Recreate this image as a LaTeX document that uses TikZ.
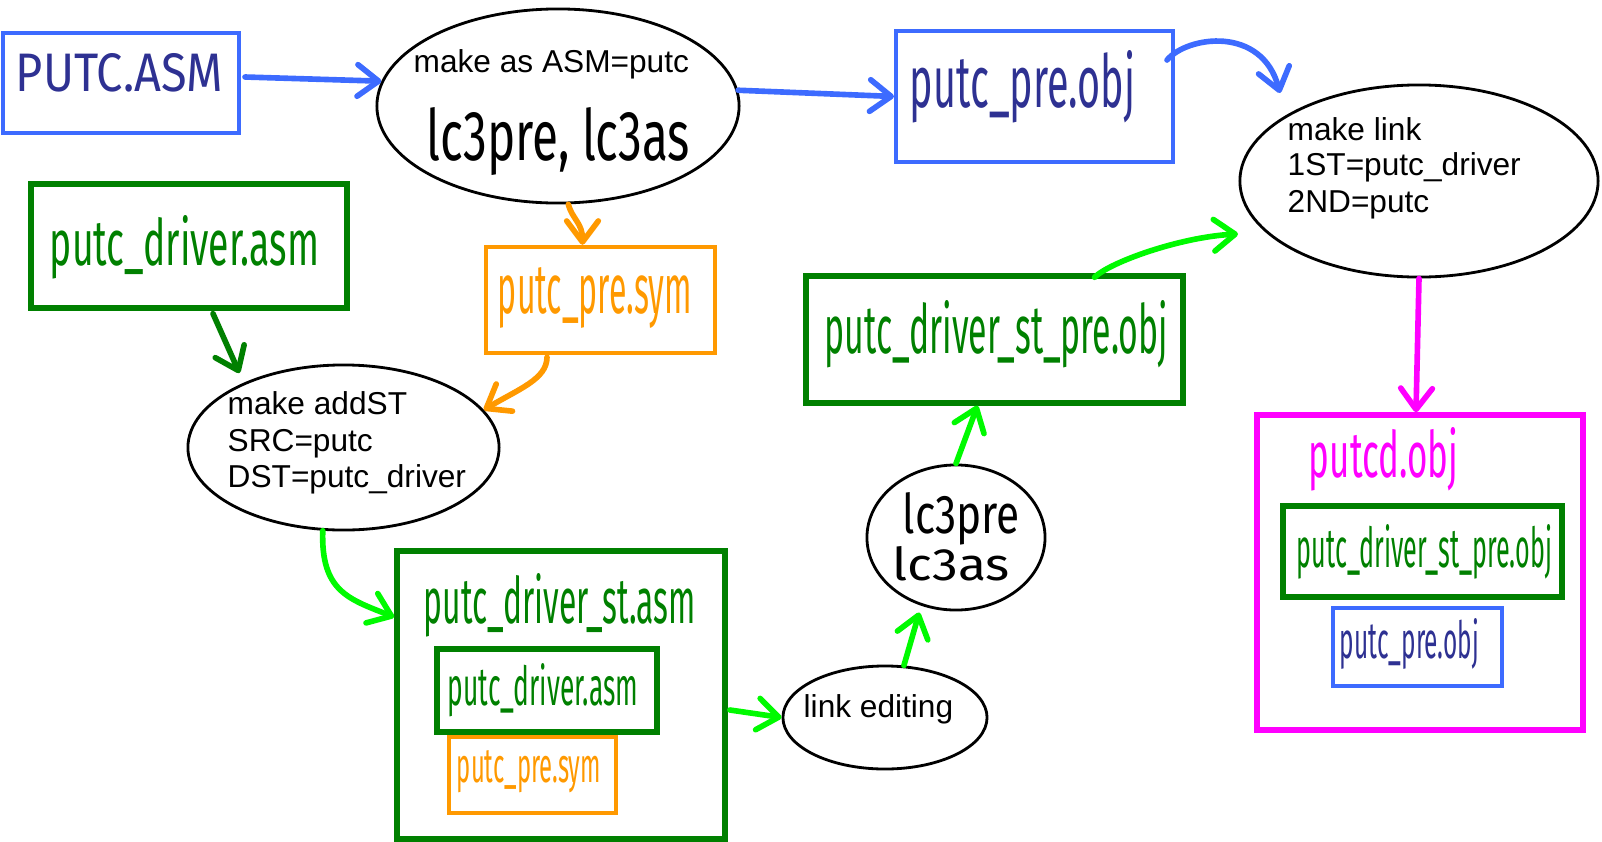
\documentclass[tikz,border=0pt]{standalone}
\usepackage{fontspec}
\setmainfont{Liberation Sans}
\newfontfamily\handfont{Fira Sans}[FakeStretch=0.5]
\usetikzlibrary{shapes.geometric,arrows.meta,calc}

\definecolor{bblue}{RGB}{61,107,255}
\definecolor{navy}{RGB}{46,49,146}
\definecolor{dgreen}{RGB}{0,128,0}
\definecolor{lgreen}{RGB}{0,250,0}
\definecolor{orng}{RGB}{255,153,0}
\definecolor{mag}{RGB}{255,0,255}

% hand-lettered label: width, height above baseline, text
\newcommand{\hw}[3]{\resizebox{#1}{#2}{\handfont #3}}

\begin{document}
\begin{tikzpicture}[x=0.01cm,y=-0.01cm,
  box/.style={draw=#1, line width=1.3pt, rectangle, inner sep=0pt},
  oval/.style={draw=black, line width=0.8pt, ellipse, inner sep=0pt},
  hand/.style={anchor=base, inner sep=0pt, text=#1},
  txt/.style={anchor=base west, inner sep=0pt, font=\fontsize{9}{10.3}\selectfont},
  arr/.style={draw=#1, line width=1.6pt, line cap=round,
    -{Straight Barb[round,length=6pt,width=9pt]}}]

\useasboundingbox (0,0) rectangle (1602,842);

% ---------- source files ----------
\node[box=bblue, line width=1.1pt, minimum width=2.36cm, minimum height=1.00cm] (asm) at (121,83) {};
\node[hand=navy] (asmT) at (119.5,91) {\hw{2.07cm}{0.38cm}{PUTC.ASM}};

\node[box=dgreen, line width=1.5pt, minimum width=3.16cm, minimum height=1.24cm] (drv) at (189,246) {};
\node[hand=dgreen] (drvT) at (184.5,265) {\hw{2.69cm}{0.50cm}{putc\_driver.asm}};

% ---------- make as ----------
\node[oval, minimum width=3.62cm, minimum height=1.94cm] (ellA) at (558,106) {};
\node[txt] (mA) at (413,72) {make as ASM=putc};
\node[hand=black] (ellAT) at (558.5,160) {\hw{2.63cm}{0.53cm}{lc3pre, lc3as}};

\node[box=bblue, line width=1.1pt, minimum width=2.77cm, minimum height=1.31cm] (obj) at (1034.5,96.5) {};
\node[hand=navy] (objT) at (1022.5,107) {\hw{2.25cm}{0.57cm}{putc\_pre.obj}};

\node[box=orng, line width=1.2pt, minimum width=2.29cm, minimum height=1.06cm] (sym) at (600.5,300) {};
\node[hand=orng] (symT) at (595,313) {\hw{1.94cm}{0.46cm}{putc\_pre.sym}};

% ---------- make addST ----------
\node[oval, minimum width=3.11cm, minimum height=1.65cm] (ellC) at (343.5,447.5) {};
\node[txt] (mC1) at (227,414) {make addST};
\node[txt] (mC2) at (227,451) {SRC=putc};
\node[txt] (mC3) at (227,487) {DST=putc\_driver};

\node[box=dgreen, line width=1.6pt, minimum width=3.28cm, minimum height=2.88cm] (st) at (561,695) {};
\node[hand=dgreen] (stT) at (560,623) {\hw{2.72cm}{0.50cm}{putc\_driver\_st.asm}};
\node[box=dgreen, line width=1.5pt, minimum width=2.20cm, minimum height=0.83cm] (stA) at (547,690.5) {};
\node[hand=dgreen] (stAT) at (543,705) {\hw{1.90cm}{0.42cm}{putc\_driver.asm}};
\node[box=orng, line width=1.2pt, minimum width=1.67cm, minimum height=0.76cm] (stB) at (532.5,775) {};
\node[hand=orng] (stBT) at (529,782) {\hw{1.44cm}{0.32cm}{putc\_pre.sym}};

% ---------- link editing ----------
\node[oval, minimum width=2.04cm, minimum height=1.03cm] (ellD) at (885,717.5) {};
\node[txt] (mD) at (803,717) {link editing};

\node[oval, minimum width=1.78cm, minimum height=1.45cm] (ellE) at (956,537.5) {};
\node[hand=black] (ellET1) at (961.5,533) {\hw{1.17cm}{0.41cm}{lc3pre}};
\node[hand=black] (ellET2) at (951.5,580) {\hw{1.17cm}{0.34cm}{lc3as}};

\node[box=dgreen, line width=1.5pt, minimum width=3.77cm, minimum height=1.27cm] (I) at (994.5,339.5) {};
\node[hand=dgreen] (IT) at (996.5,353) {\hw{3.43cm}{0.53cm}{putc\_driver\_st\_pre.obj}};

% ---------- make link ----------
\node[oval, minimum width=3.58cm, minimum height=1.92cm] (ellB) at (1419,181) {};
\node[txt] (mB1) at (1287,140) {make link};
\node[txt] (mB2) at (1287,175) {1ST=putc\_driver};
\node[txt] (mB3) at (1287,212) {2ND=putc};

\node[box=mag, line width=1.5pt, minimum width=3.26cm, minimum height=3.15cm] (J) at (1420,572.5) {};
\node[hand=mag] (JT) at (1383.5,477) {\hw{1.49cm}{0.50cm}{putcd.obj}};
\node[box=dgreen, line width=1.5pt, minimum width=2.79cm, minimum height=0.91cm] (K) at (1422.5,551.5) {};
\node[hand=dgreen] (KT) at (1424.5,567) {\hw{2.55cm}{0.43cm}{putc\_driver\_st\_pre.obj}};
\node[box=bblue, line width=1.1pt, minimum width=1.69cm, minimum height=0.78cm] (L) at (1417.5,647) {};
\node[hand=navy] (LT) at (1409.5,658) {\hw{1.39cm}{0.40cm}{putc\_pre.obj}};

% ---------- connectors ----------
\coordinate (linkin) at ($(ellB.center)+(-139,-88)$);
\coordinate (linkin2) at ($(ellB.center)+(-181,53)$);

\draw[arr=bblue] ($(asm.east)+(4,-6)$) -- (ellA.172);
\draw[arr=bblue] (ellA.5) -- (obj.west);
\draw[arr=bblue] ($(obj.north east)+(-8,31)$) .. controls +(20,-24) and +(-18,-68) .. (linkin);

\draw[arr=orng] (ellA.-84) .. controls +(4,15) and +(0,-22) .. ($(sym.north)+(-18,0)$);
\draw[arr=orng] ($(sym.south)+(-53.5,2)$) .. controls +(0,22) and +(35,-21) .. (ellC.15);

\draw[arr=dgreen, shorten >=3pt] ($(drv.south)+(24,3)$) -- (ellC.147);

\draw[arr=lgreen] (ellC.256) .. controls +(-2,61) and +(-45,-18) .. ($(st.north west)+(0,69)$);
\draw[arr=lgreen] ($(st.east)+(2,15)$) -- (ellD.west);
\draw[arr=lgreen, shorten >=2pt] (ellD.70) -- (ellE.243);
\draw[arr=lgreen] (ellE.north) -- ($(I.south)+(-17,0)$);
\draw[arr=lgreen] ($(I.north)+(100,4)$) .. controls +(15,-15) and +(-58,3) .. (linkin2);

\draw[arr=mag] (ellB.south) -- ($(J.north)+(-4,0)$);

\end{tikzpicture}
\end{document}
